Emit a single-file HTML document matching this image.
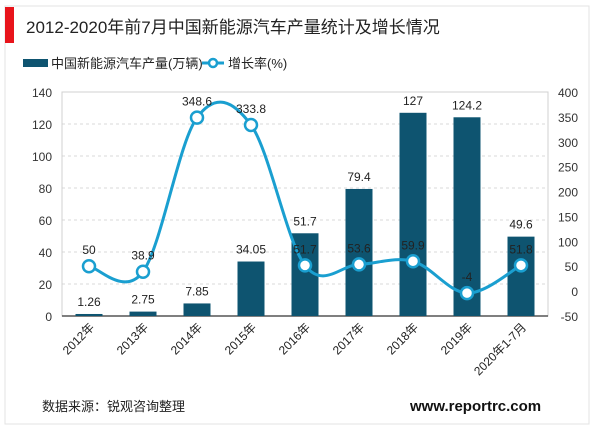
<!DOCTYPE html>
<html><head><meta charset="utf-8"><style>
body{margin:0;background:#fff;}
svg text{font-family:"Liberation Sans","Noto Sans CJK SC",sans-serif;}
</style></head><body>
<svg width="600" height="430" viewBox="0 0 600 430" xmlns="http://www.w3.org/2000/svg">
<rect x="5" y="6" width="584" height="418" fill="#fff" stroke="#e3e3e3"/>
<rect x="5" y="7" width="9" height="36" fill="#e8141b"/>
<text x="26" y="33" font-size="17" fill="#222">2012-2020年前7月中国新能源汽车产量统计及增长情况</text>
<g>
<rect x="23" y="59" width="25" height="8" fill="#0e5470"/>
<text x="51" y="68" font-size="13" fill="#222">中国新能源汽车产量(万辆)</text>
<line x1="202" y1="63" x2="224" y2="63" stroke="#1a9fd0" stroke-width="3"/>
<circle cx="213" cy="63" r="4" fill="#fff" stroke="#1a9fd0" stroke-width="2.5"/>
<text x="228" y="68" font-size="13" fill="#222">增长率(%)</text>
</g>
<g id="plot"></g>
<text x="42" y="411" font-size="13" fill="#222">数据来源：锐观咨询整理</text>
<text x="410" y="411" font-size="15" font-weight="bold" fill="#111">www.reportrc.com</text>
</svg>
<script>
const categories=["2012年","2013年","2014年","2015年","2016年","2017年","2018年","2019年","2020年1-7月"];
const production=[1.26,2.75,7.85,34.05,51.7,79.4,127,124.2,49.6];
const growth=[50,38.9,348.6,333.8,51.7,53.6,59.9,-4,51.8];
const leftTicks=[0,20,40,60,80,100,120,140];
const rightTicks=[-50,0,50,100,150,200,250,300,350,400];
const NS="http://www.w3.org/2000/svg";
const g=document.getElementById('plot');
const X0=62,X1=548,Y0=316,Y1=92;
const band=(X1-X0)/categories.length;
const xc=i=>X0+band*(i+0.5);
const yL=v=>Y0-(v-0)/(140-0)*(Y0-Y1);
const yR=v=>Y0-(v+50)/(450)*(Y0-Y1);
function el(t,a,txt){const e=document.createElementNS(NS,t);for(const k in a)e.setAttribute(k,a[k]);if(txt!==undefined)e.textContent=txt;g.appendChild(e);return e;}
leftTicks.forEach(v=>{if(v>0){const l=el('line',{x1:X0,x2:X1,y1:yL(v),y2:yL(v),stroke:'#d8d8d8','stroke-dasharray':'3,3'});

}
const t=el('text',{x:X0-10,y:yL(v)+5,'font-size':12,'text-anchor':'end',fill:'#333'},v);

});
rightTicks.forEach(v=>{const t=el('text',{x:X1+30,y:yR(v)+5,'font-size':12,'text-anchor':'end',fill:'#333'},v);

});
const box=el('rect',{x:X0,y:Y1,width:X1-X0,height:Y0-Y1,fill:'none',stroke:'#d0d0d0'});


const ax=el('line',{x1:X0,x2:X1,y1:Y0,y2:Y0,stroke:'#555','stroke-width':1.5});


production.forEach((v,i)=>{const b=el('rect',{x:xc(i)-13.5,y:yL(v),width:27,height:Y0-yL(v),fill:'#0e5470'});


const t=el('text',{x:xc(i),y:yL(v)-8,'font-size':12,'text-anchor':'middle',fill:'#222'},v);


const c=el('text',{transform:`translate(${xc(i)+6},${Y0+12}) rotate(-45)`,'font-size':12,'text-anchor':'end',fill:'#222'},categories[i]);

});
const pts=growth.map((v,i)=>[xc(i),yR(v)]);
let d=`M${pts[0][0]},${pts[0][1]}`;
for(let i=0;i<pts.length-1;i++){const p0=pts[Math.max(0,i-1)],p1=pts[i],p2=pts[i+1],p3=pts[Math.min(pts.length-1,i+2)];
const k=0.17;d+=` C${p1[0]+(p2[0]-p0[0])*k},${p1[1]+(p2[1]-p0[1])*k} ${p2[0]-(p3[0]-p1[0])*k},${p2[1]-(p3[1]-p1[1])*k} ${p2[0]},${p2[1]}`;}
const line=el('path',{d:d,fill:'none',stroke:'#1a9fd0','stroke-width':3});


growth.forEach((v,i)=>{const c=el('circle',{cx:pts[i][0],cy:pts[i][1],r:6,fill:'#fff',stroke:'#1a9fd0','stroke-width':2.5});


const t=el('text',{x:pts[i][0],y:pts[i][1]-12,'font-size':12,'text-anchor':'middle',fill:'#222'},v);

});
</script>
</body></html>
